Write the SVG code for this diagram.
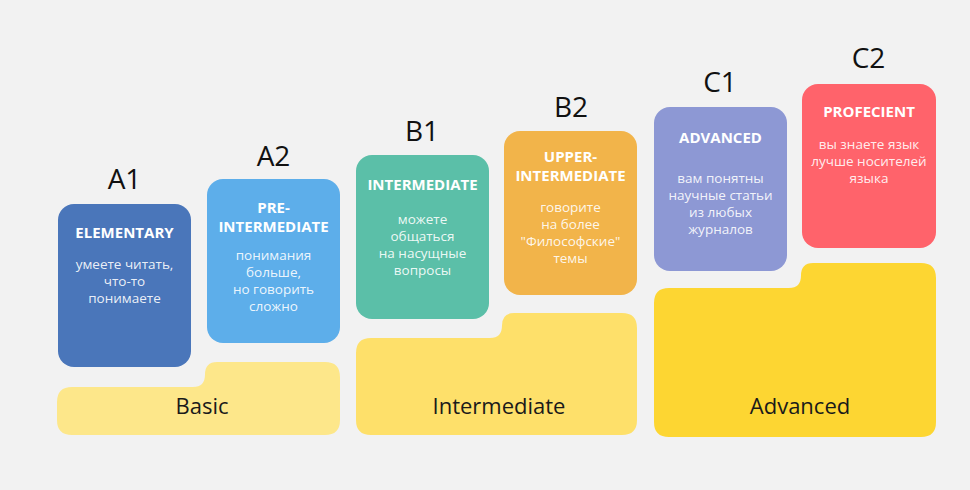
<svg xmlns="http://www.w3.org/2000/svg" width="970" height="490" viewBox="0 0 970 490">
<style>
.bg{fill:#f2f2f2}
.lvl{font-family:"Open Sans","Noto Sans","DejaVu Sans",sans-serif;font-size:28px;fill:#111;text-anchor:middle}
.ttl{font-family:"Open Sans","Noto Sans","DejaVu Sans",sans-serif;font-size:15px;font-weight:700;fill:#fff;text-anchor:middle}
.body{font-family:"Open Sans","Noto Sans","DejaVu Sans",sans-serif;font-size:13.5px;fill:#fff;fill-opacity:0.9;text-anchor:middle}
.grp{font-family:"Open Sans","Noto Sans","DejaVu Sans",sans-serif;font-size:22px;fill:#1a1a1a;text-anchor:middle}
</style>
<rect class="bg" x="0" y="0" width="970" height="490"/>

<g id="group-basic">
<path d="M72 387 H193 Q205 387 205 374.5 Q205 362 217 362 H325 Q340 362 340 377 V420 Q340 435 325 435 H72 Q57 435 57 420 V402 Q57 387 72 387 Z" fill="#fde78a"/>
<text class="grp" x="202" y="414">Basic</text>
</g>
<g id="group-intermediate">
<path d="M371 338 H490 Q502 338 502 325.5 Q502 313 514 313 H622 Q637 313 637 328 V420 Q637 435 622 435 H371 Q356 435 356 420 V353 Q356 338 371 338 Z" fill="#fee06a"/>
<text class="grp" x="499" y="414">Intermediate</text>
</g>
<g id="group-advanced">
<path d="M669 288 H789 Q801 288 801 275.5 Q801 263 813 263 H921 Q936 263 936 278 V422 Q936 437 921 437 H669 Q654 437 654 422 V303 Q654 288 669 288 Z" fill="#fdd632"/>
<text class="grp" x="800" y="414">Advanced</text>
</g>

<g id="node-a1">
<text class="lvl" x="124.5" y="189">A1</text>
<rect x="58" y="204" width="133" height="163" rx="16" fill="#4a76ba"/>
<text class="ttl" x="124.5" y="238">ELEMENTARY</text>
<text class="body" x="124.5" y="269">умеете читать,</text>
<text class="body" x="124.5" y="286">что-то</text>
<text class="body" x="124.5" y="303">понимаете</text>
</g>

<g id="node-a2">
<text class="lvl" x="273.5" y="166">A2</text>
<rect x="207" y="179" width="133" height="164" rx="16" fill="#5daeea"/>
<text class="ttl" x="273.5" y="213">PRE-</text>
<text class="ttl" x="273.5" y="232">INTERMEDIATE</text>
<text class="body" x="273.5" y="260">понимания</text>
<text class="body" x="273.5" y="277">больше,</text>
<text class="body" x="273.5" y="294">но говорить</text>
<text class="body" x="273.5" y="311">сложно</text>
</g>

<g id="node-b1">
<text class="lvl" x="422" y="141">B1</text>
<rect x="356" y="155" width="133" height="164" rx="16" fill="#5bbfa8"/>
<text class="ttl" x="422.5" y="190">INTERMEDIATE</text>
<text class="body" x="422.5" y="224">можете</text>
<text class="body" x="422.5" y="241">общаться</text>
<text class="body" x="422.5" y="258">на насущные</text>
<text class="body" x="422.5" y="275">вопросы</text>
</g>

<g id="node-b2">
<text class="lvl" x="571" y="117">B2</text>
<rect x="504" y="131" width="133" height="164" rx="16" fill="#f2b44a"/>
<text class="ttl" x="570.5" y="162">UPPER-</text>
<text class="ttl" x="570.5" y="181">INTERMEDIATE</text>
<text class="body" x="570.5" y="212">говорите</text>
<text class="body" x="570.5" y="229">на более</text>
<text class="body" x="570.5" y="246">"Философские"</text>
<text class="body" x="570.5" y="263">темы</text>
</g>

<g id="node-c1">
<text class="lvl" x="720" y="92">C1</text>
<rect x="654" y="107" width="133" height="164" rx="16" fill="#8d98d4"/>
<text class="ttl" x="720.5" y="143">ADVANCED</text>
<text class="body" x="720.5" y="183">вам понятны</text>
<text class="body" x="720.5" y="200">научные статьи</text>
<text class="body" x="720.5" y="217">из любых</text>
<text class="body" x="720.5" y="234">журналов</text>
</g>

<g id="node-c2">
<text class="lvl" x="868.5" y="68">C2</text>
<rect x="802" y="84" width="134" height="164" rx="16" fill="#ff636b"/>
<text class="ttl" x="869" y="117">PROFECIENT</text>
<text class="body" x="869" y="149">вы знаете язык</text>
<text class="body" x="869" y="166">лучше носителей</text>
<text class="body" x="869" y="183">языка</text>
</g>
</svg>
